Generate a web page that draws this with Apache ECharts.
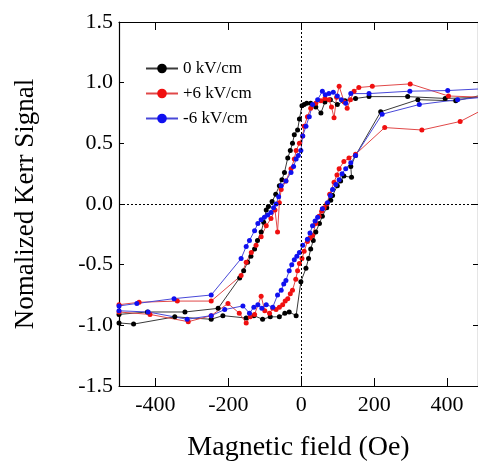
<!DOCTYPE html>
<html>
<head>
<meta charset="utf-8">
<script src="https://cdn.jsdelivr.net/npm/echarts/dist/echarts.min.js"></script>
<style>
  body { margin: 0; background: #fff; }
  #kerr { width: 478px; height: 467px; }
</style>
</head>
<body>
<div id="kerr"></div>
<script>
// field (Oe) and normalized Kerr signal, ascending branch then descending branch
var blackH = [-500,-460,-347,-247,-215,-151,-130,-106,-85,-60,-45,-33,-14,-1,13,20,26,33,40,50,58,70,81,86,99,108,117,138,136,149,218,320,424,500,
              500,395,292,186,149,120,99,80,65,54,40,26,15,8,2,-5,-10,-19,-24,-30,-37,-46,-53,-60,-70,-80,-90,-96,-103,-110,-120,-128,-138,-147,-158,-169,-228,-319,-422,-500];
var blackM = [-0.98,-0.99,-0.93,-0.95,-0.92,-0.94,-0.92,-0.95,-0.93,-0.93,-0.90,-0.89,-0.92,-0.64,-0.53,-0.45,-0.37,-0.30,-0.23,-0.16,-0.10,-0.03,0.03,0.07,0.15,0.19,0.23,0.22,0.31,0.40,0.76,0.86,0.85,0.90,
              0.88,0.87,0.885,0.885,0.87,0.85,0.82,0.86,0.84,0.75,0.80,0.83,0.83,0.82,0.81,0.70,0.61,0.57,0.50,0.44,0.38,0.26,0.20,0.15,0.08,0.02,-0.02,-0.05,-0.15,-0.23,-0.30,-0.37,-0.43,-0.48,-0.55,-0.61,-0.86,-0.89,-0.89,-0.91];

var redH = [-500,-415,-310,-247,-201,-170,-151,-140,-128,-110,-100,-87,-78,-69,-60,-51,-44,-37,-30,-24,-15,-10,-5,2,8,17,24,31,40,49,56,63,70,78,90,98,104,117,131,149,229,331,436,500,
            500,404,299,195,158,145,135,126,118,104,97,90,83,76,65,54,40,26,17,8,4,-5,-14,-19,-28,-42,-55,-60,-65,-72,-83,-96,-110,-124,-137,-151,-165,-247,-340,-445,-500];
var redM = [-0.89,-0.91,-0.97,-0.92,-0.82,-0.90,-0.98,-0.93,-0.91,-0.76,-0.88,-0.90,-0.86,-0.87,-0.85,-0.83,-0.80,-0.78,-0.74,-0.71,-0.62,-0.55,-0.49,-0.45,-0.39,-0.31,-0.28,-0.26,-0.16,-0.10,-0.06,-0.03,0.00,0.08,0.18,0.24,0.29,0.35,0.38,0.41,0.63,0.61,0.68,0.78,
            0.88,0.89,0.99,0.97,0.96,0.93,0.86,0.79,0.84,0.97,0.88,0.71,0.80,0.86,0.87,0.85,0.83,0.79,0.72,0.64,0.56,0.50,0.44,0.37,0.29,0.19,0.12,0.01,-0.23,-0.05,-0.12,-0.18,-0.27,-0.34,-0.40,-0.48,-0.59,-0.80,-0.80,-0.81,-0.83];

var blueH = [-500,-420,-313,-247,-210,-160,-142,-130,-119,-108,-96,-78,-65,-55,-48,-42,-33,-26,-19,-12,-5,4,17,24,31,38,45,58,72,80,86,95,104,112,122,136,149,222,324,429,500,
             500,402,298,186,136,122,110,99,88,76,66,58,45,31,22,13,4,-1,-8,-14,-21,-28,-42,-55,-62,-69,-76,-83,-92,-101,-110,-119,-128,-142,-151,-165,-247,-349,-451,-500];
var blueM = [-0.88,-0.89,-0.95,-0.92,-0.87,-0.84,-0.90,-0.85,-0.83,-0.86,-0.83,-0.85,-0.75,-0.71,-0.66,-0.63,-0.55,-0.50,-0.46,-0.43,-0.40,-0.34,-0.29,-0.24,-0.18,-0.14,-0.11,-0.04,0.01,0.07,0.12,0.16,0.20,0.25,0.29,0.34,0.40,0.74,0.82,0.86,0.88,
             0.95,0.935,0.93,0.91,0.91,0.83,0.86,0.89,0.92,0.91,0.90,0.93,0.86,0.82,0.72,0.64,0.56,0.44,0.40,0.37,0.31,0.26,0.19,0.15,0.06,0.00,-0.03,-0.07,-0.09,-0.11,-0.13,-0.16,-0.22,-0.30,-0.35,-0.45,-0.75,-0.78,-0.82,-0.84];

var seriesNames = ['0 kV/cm', '+6 kV/cm', '-6 kV/cm'];
var xTicks = [-400, -200, 0, 200, 400];

function pairs(h, m) {
    return h.map(function (v, i) { return [v, m[i]]; });
}

var serif = '"Liberation Serif", "Times New Roman", "DejaVu Serif", serif';
var chart = echarts.init(document.getElementById('kerr'));

function mkSeries(name, data, dot, line, withLines) {
    var s = {
        name: name,
        type: 'line',
        data: data,
        symbol: 'circle',
        symbolSize: 5,
        showAllSymbol: true,
        itemStyle: { color: dot },
        lineStyle: { color: line, width: 1 },
        xAxisIndex: 0,
        yAxisIndex: 0
    };
    if (withLines) {
        s.markLine = {
            silent: true,
            symbol: ['none', 'none'],
            label: { show: false },
            lineStyle: { color: '#000', type: [2, 2], width: 1 },
            data: [{ xAxis: 0 }, { yAxis: 0 }]
        };
    }
    return s;
}

var axisBase = {
    axisLine: { show: true, onZero: false, lineStyle: { color: '#000', width: 1.2 } },
    splitLine: { show: false }
};

chart.setOption({
    animation: false,
    grid: { left: 119, right: -2, top: 22, bottom: 78 },
    legend: {
        orient: 'vertical',
        left: 140,
        top: 55,
        itemWidth: 32,
        itemHeight: 12,
        itemGap: 8,
        textStyle: { fontFamily: serif, fontSize: 17, color: '#000' },
        data: seriesNames
    },
    xAxis: [
        Object.assign({}, axisBase, {
            type: 'value', min: -500, max: 485, position: 'bottom',
            axisTick: { inside: true, length: 8, customValues: xTicks, lineStyle: { color: '#000' } },
            axisLabel: { customValues: xTicks, fontFamily: serif, fontSize: 22, color: '#000', margin: 8 },
            name: 'Magnetic field (Oe)', nameLocation: 'middle', nameGap: 48,
            nameTextStyle: { fontFamily: serif, fontSize: 28, color: '#000' }
        }),
        Object.assign({}, axisBase, {
            type: 'value', min: -500, max: 485, position: 'top',
            axisTick: { inside: true, length: 8, customValues: xTicks, lineStyle: { color: '#000' } },
            axisLabel: { show: false }
        })
    ],
    yAxis: [
        Object.assign({}, axisBase, {
            type: 'value', min: -1.5, max: 1.5, interval: 0.5, position: 'left',
            axisTick: { inside: true, length: 5, lineStyle: { color: '#000' } },
            axisLabel: {
                fontFamily: serif, fontSize: 22, color: '#000', margin: 6,
                formatter: function (v) { return v.toFixed(1); }
            },
            name: 'Nomalized Kerr Signal', nameLocation: 'middle', nameGap: 80,
            nameTextStyle: { fontFamily: serif, fontSize: 27, color: '#000' }
        }),
        Object.assign({}, axisBase, {
            type: 'value', min: -1.5, max: 1.5, interval: 0.5, position: 'right',
            axisTick: { inside: true, length: 5, lineStyle: { color: '#000' } },
            axisLabel: { show: false }
        })
    ],
    series: [
        mkSeries(seriesNames[0], pairs(blackH, blackM), '#000000', '#3a3a3a', true),
        mkSeries(seriesNames[1], pairs(redH, redM), '#f01010', '#e04848', false),
        mkSeries(seriesNames[2], pairs(blueH, blueM), '#1010f0', '#4848d8', false)
    ]
});
</script>
</body>
</html>
